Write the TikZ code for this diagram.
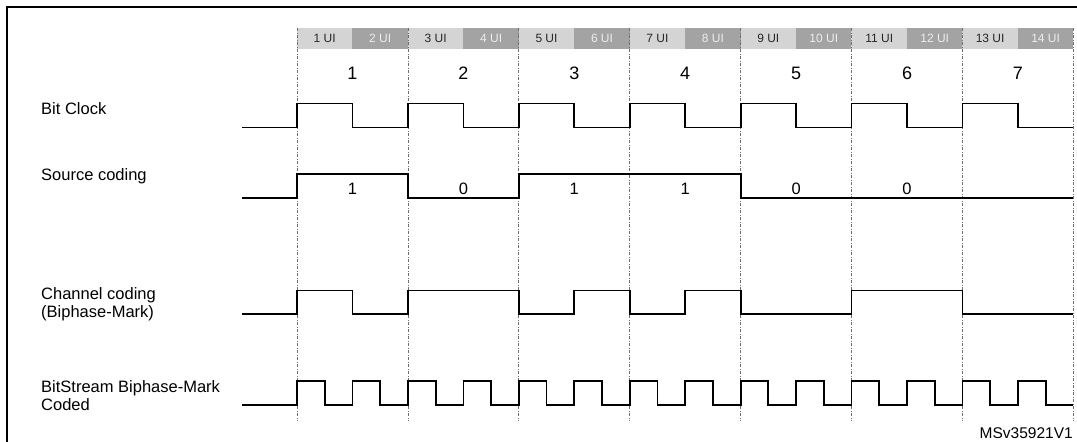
\documentclass[tikz,border=0pt]{standalone}
\usepackage{fontspec}
\setmainfont{Liberation Sans}
\definecolor{uilight}{HTML}{D4D4D4}
\definecolor{uidark}{HTML}{A3A3A3}
\definecolor{gridgray}{HTML}{6E6E6E}
\begin{document}
\begin{tikzpicture}[x=1pt,y=-1pt,
  wave/.style={line width=1.8pt},
  bitgrid/.style={gridgray,line width=0.8pt,dash pattern=on 3pt off 1.5pt on 1pt off 1.5pt},
  uilo/.style={fill=uilight,text=black!85,inner sep=0pt,minimum width=55.45pt,minimum height=20.2pt,font=\fontsize{12}{13}\selectfont},
  uihi/.style={uilo,fill=uidark,text=white!93!black},
  rowlbl/.style={anchor=base west,inner sep=0pt,font=\fontsize{16.5}{18}\selectfont},
  bitno/.style={inner sep=0pt,font=\fontsize{18}{19}\selectfont},
  srcbit/.style={inner sep=0pt,font=\fontsize{16.5}{18}\selectfont}]
\useasboundingbox (0,0) rectangle (1077,442);
% frame
\draw[line width=2.2pt] (7,442) -- (7,7) -- (1077,7);
% unit intervals
\node[uilo] (ui1) at (324.7,38.4) {1 UI};
\node[uihi] (ui2) at (380.2,38.4) {2 UI};
\node[uilo] (ui3) at (435.6,38.4) {3 UI};
\node[uihi] (ui4) at (491.1,38.4) {4 UI};
\node[uilo] (ui5) at (546.5,38.4) {5 UI};
\node[uihi] (ui6) at (602.0,38.4) {6 UI};
\node[uilo] (ui7) at (657.4,38.4) {7 UI};
\node[uihi] (ui8) at (712.9,38.4) {8 UI};
\node[uilo] (ui9) at (768.3,38.4) {9 UI};
\node[uihi] (ui10) at (823.8,38.4) {10 UI};
\node[uilo] (ui11) at (879.2,38.4) {11 UI};
\node[uihi] (ui12) at (934.7,38.4) {12 UI};
\node[uilo] (ui13) at (990.1,38.4) {13 UI};
\node[uihi] (ui14) at (1045.6,38.4) {14 UI};
% bit boundaries
\draw[bitgrid] (297,28.3) -- (297,421);
\draw[bitgrid] (407.9,28.3) -- (407.9,421);
\draw[bitgrid] (518.8,28.3) -- (518.8,421);
\draw[bitgrid] (629.7,28.3) -- (629.7,421);
\draw[bitgrid] (740.6,28.3) -- (740.6,421);
\draw[bitgrid] (851.5,28.3) -- (851.5,421);
\draw[bitgrid] (962.4,28.3) -- (962.4,421);
\draw[bitgrid] (1073.3,28.3) -- (1073.3,421);
% bit numbers
\node[bitno] (bit1) at (352.5,73) {1};
\node[bitno] (bit2) at (463.4,73) {2};
\node[bitno] (bit3) at (574.3,73) {3};
\node[bitno] (bit4) at (685.2,73) {4};
\node[bitno] (bit5) at (796.1,73) {5};
\node[bitno] (bit6) at (907.0,73) {6};
\node[bitno] (bit7) at (1017.9,73) {7};
% row labels
\node[rowlbl] (clklbl) at (41,114) {Bit Clock};
\node[rowlbl] (srclbl) at (41,180.7) {Source coding};
\node[rowlbl] (chlbl) at (41,299.5) {Channel coding};
\node[rowlbl] (chlblb) at (41,317) {(Biphase-Mark)};
\node[rowlbl] (bslbl) at (41,392.6) {BitStream Biphase-Mark};
\node[rowlbl] (bslblb) at (41,410.5) {Coded};
% bit clock
\draw[wave] (242,127.5) -| (297,103.5) -| (352.5,127.5) -| (407.9,103.5) -| (463.4,127.5)
  -| (518.8,103.5) -| (574.3,127.5) -| (629.7,103.5) -| (685.2,127.5) -| (740.6,103.5)
  -| (796.1,127.5) -| (851.5,103.5) -| (907.0,127.5) -| (962.4,103.5) -| (1017.9,127.5)
  -- (1073.3,127.5);
% source coding
\draw[wave] (242,198) -| (297,174) -| (407.9,198) -| (518.8,174) -| (740.6,198) -- (1073.3,198);
\node[srcbit] (src1) at (352.5,188.5) {1};
\node[srcbit] (src2) at (463.4,188.5) {0};
\node[srcbit] (src3) at (574.3,188.5) {1};
\node[srcbit] (src4) at (685.2,188.5) {1};
\node[srcbit] (src5) at (796.1,188.5) {0};
\node[srcbit] (src6) at (907.0,188.5) {0};
% channel coding
\draw[wave] (242,314) -| (297,290.5) -| (352.5,314) -| (407.9,290.5) -| (518.8,314)
  -| (574.3,290.5) -| (629.7,314) -| (685.2,290.5) -| (740.6,314) -| (851.5,290.5)
  -| (962.4,314) -- (1073.3,314);
% bitstream
\draw[wave] (242,405) -| (297,381) -| (324.7,405) -| (352.5,381) -| (380.2,405)
  -| (407.9,381) -| (435.6,405) -| (463.4,381) -| (491.1,405) -| (518.8,381)
  -| (546.5,405) -| (574.3,381) -| (602.0,405) -| (629.7,381) -| (657.4,405)
  -| (685.2,381) -| (712.9,405) -| (740.6,381) -| (768.3,405) -| (796.1,381)
  -| (823.8,405) -| (851.5,381) -| (879.2,405) -| (907.0,381) -| (934.7,405)
  -| (962.4,381) -| (990.1,405) -| (1017.9,381) -| (1045.6,405) -- (1073.3,405);
\node[anchor=base east,inner sep=0pt,font=\fontsize{15.5}{16}\selectfont] (docid) at (1073,438) {MSv35921V1};
\end{tikzpicture}
\end{document}
